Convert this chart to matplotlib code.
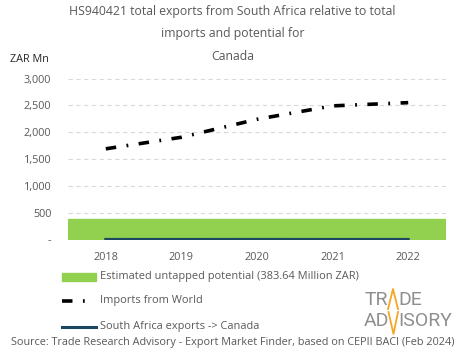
import matplotlib
matplotlib.use("Agg")
import matplotlib.pyplot as plt
from matplotlib.patches import Rectangle
from matplotlib.lines import Line2D

years = ["2018", "2019", "2020", "2021", "2022"]
imports_world = [1690, 1905, 2240, 2490, 2550]
sa_exports = [1.0, 0.8, 1.2, 0.9, 1.1]
untapped_potential = 383.64
y_ticks = [0, 500, 1000, 1500, 2000, 2500, 3000]
y_tick_labels = ["-", "500", "1,000", "1,500", "2,000", "2,500", "3,000"]

W, H = 465, 359
plt.rcParams["font.family"] = ["Open Sans", "DejaVu Sans"]
grey = "#595959"


def fx(px):
    return px / W


def fy(py):
    return 1 - py / H


fig = plt.figure(figsize=(W / 100, H / 100), dpi=100)
ax = fig.add_axes([fx(68), fy(239.5), fx(446) - fx(68), fy(78.5) - fy(239.5)])

x = list(range(len(years)))
ax.axhspan(0, untapped_potential, color="#92d050", zorder=1)
ax.plot(x, sa_exports, color="#1d4660", lw=2.2, zorder=3)
ax.plot(x, imports_world, color="black", lw=2.6, zorder=4,
        dashes=(2.9, 2.9, 0.5, 2.9))

ax.set_xlim(-0.5, 4.5)
ax.set_ylim(0, 3000)
ax.set_xticks(x)
ax.set_xticklabels(years)
ax.set_yticks(y_ticks)
ax.set_yticklabels(y_tick_labels)
ax.tick_params(axis="both", length=0, labelsize=7.8, colors=grey)
ax.tick_params(axis="y", pad=12)
ax.tick_params(axis="x", pad=9)
for s in ax.spines.values():
    s.set_visible(False)
ax.yaxis.grid(True, color="#d9d9d9", linestyle=(0, (4, 3)), lw=0.8)
ax.set_axisbelow(True)

# title
for txt, py in [("HS940421 total exports from South Africa relative to total", 12),
                ("imports and potential for", 34),
                ("Canada", 57)]:
    fig.text(0.5, fy(py), txt, ha="center", va="center", fontsize=8.8, color=grey)
fig.text(fx(10), fy(60), "ZAR Mn", ha="left", va="center", fontsize=7.8, color="#262626")

# legend
fig.add_artist(Rectangle((fx(62), fy(281)), fx(96) - fx(62), fy(273) - fy(281),
                         transform=fig.transFigure, color="#92d050"))
fig.text(fx(100), fy(277), "Estimated untapped potential (383.64 Million ZAR)",
         ha="left", va="center", fontsize=7.9, color=grey)
fig.add_artist(Line2D([fx(62), fx(90)], [fy(301), fy(301)], transform=fig.transFigure,
                      color="black", lw=2.6, dashes=(2.9, 2.9, 0.5, 2.9)))
fig.text(fx(100), fy(301), "Imports from World", ha="left", va="center",
         fontsize=7.9, color=grey)
fig.add_artist(Line2D([fx(62), fx(96)], [fy(327), fy(327)], transform=fig.transFigure,
                      color="#1d4660", lw=2.2))
fig.text(fx(100), fy(326), "South Africa exports -> Canada", ha="left", va="center",
         fontsize=7.9, color=grey)

fig.text(0.5, fy(343), "Source: Trade Research Advisory - Export Market Finder, based on CEPII BACI (Feb 2024)",
         ha="center", va="center", fontsize=7.8, color=grey)

# logo
logo_grey = "#8f8f8f"
orange = "#f5a623"
logo_font = ["Roboto", "DejaVu Sans"]
fig.text(fx(388), fy(300), "TR", ha="right", va="center", fontsize=14, color=logo_grey,
         family=logo_font)
fig.text(fx(398), fy(300), "DE", ha="left", va="center", fontsize=14, color=logo_grey,
         family=logo_font)
fig.text(fx(389), fy(321), "AD", ha="right", va="center", fontsize=14, color=logo_grey,
         family=logo_font)
fig.text(fx(398), fy(321), "ISORY", ha="left", va="center", fontsize=14, color=logo_grey,
         family=logo_font)
fig.add_artist(Line2D([fx(388), fx(393), fx(398)], [fy(309), fy(289), fy(309)],
                      transform=fig.transFigure, color=orange, lw=1.3))
fig.add_artist(Line2D([fx(388.5), fx(393.5), fx(398)], [fy(312), fy(334), fy(312)],
                      transform=fig.transFigure, color=orange, lw=1.3))

fig.savefig("out.png", dpi=100)
